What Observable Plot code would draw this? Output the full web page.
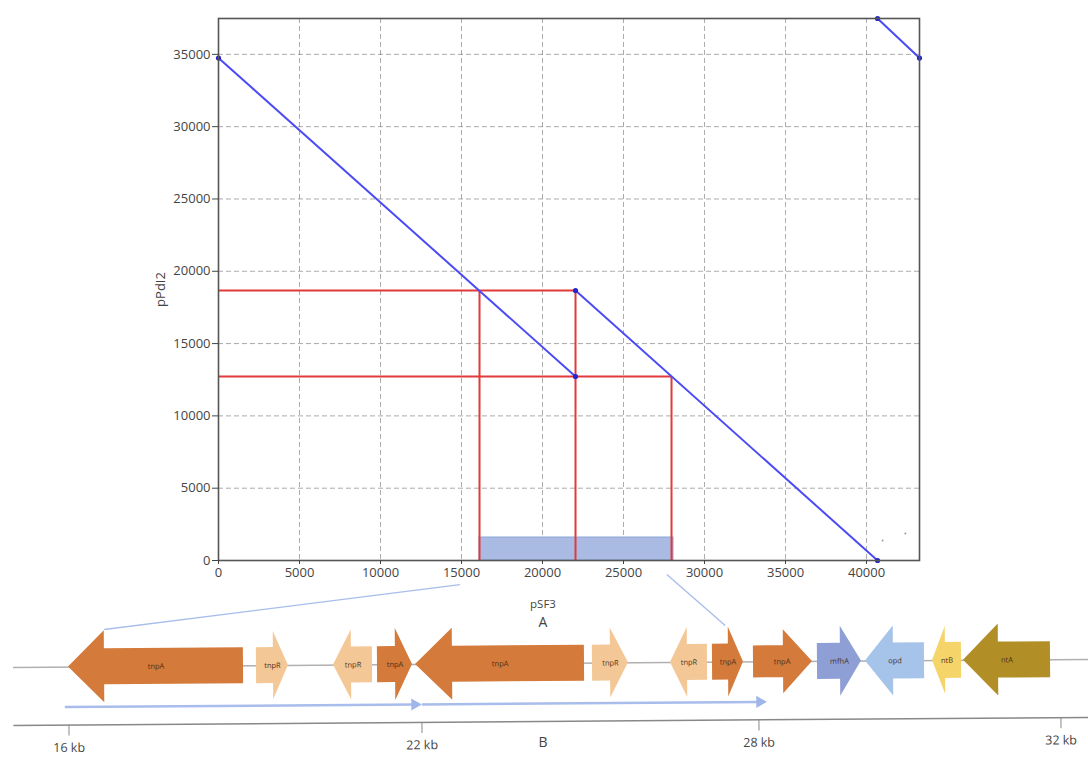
<!DOCTYPE html>
<html><head><meta charset="utf-8">
<script src="https://cdn.jsdelivr.net/npm/d3@7"></script>
<script src="https://cdn.jsdelivr.net/npm/@observablehq/plot@0.6"></script>
<style>
body{margin:0;background:#fff;font-family:"Open Sans",sans-serif;}
#wrap{position:relative;width:1088px;height:757px;overflow:hidden;background:#fff;}
#top{position:absolute;left:0;top:0;}
#map{position:absolute;left:0;top:570px;transform:rotate(-0.43deg);transform-origin:544px 93px;}
#map svg,#top svg{overflow:visible;}
.lbl{position:absolute;transform:translate(-50%,-50%);color:#444;white-space:nowrap;}
</style></head><body>
<div id="wrap"><div id="top"></div><div id="map"></div>
<div class="lbl" style="left:543px;top:603px;font-size:11.5px">pSF3</div>
<div class="lbl" style="left:543px;top:621px;font-size:14px">A</div>
<div class="lbl" style="left:543px;top:741px;font-size:14px">B</div>
</div>
<script>
// ---------- Dot plot data (pSF3 vs pPdI2, bp) ----------
const xTicks = [0, 5000, 10000, 15000, 20000, 25000, 30000, 35000, 40000];
const yTicks = [0, 5000, 10000, 15000, 20000, 25000, 30000, 35000];
const xMax = 43270;
const yMax = 37480;
const segX1 = [0, 22037, 40680];
const segY1 = [34750, 18672, 37480];
const segX2 = [22037, 40680, 43270];
const segY2 = [12725, 0, 34750];
const dotX = [0, 22037, 22037, 40680, 40680, 43270];
const dotY = [34750, 12725, 18672, 0, 37480, 34750];
const redHy = [18672, 12725];
const redHx2 = [22037, 27963];
const redVx = [16111, 22037, 27963];
const redVy2 = [18672, 18672, 12725];
const regionX = [16111, 28086];
const regionY = [0, 1590];
const specksX = [40990, 42400];
const specksY = [1380, 1870];

// ---------- Gene map data (kb) ----------
const geneNames = ["tnpA","tnpR","tnpR","tnpA","tnpA","tnpR","tnpR","tnpA","tnpA","mfhA","opd","ntB","ntA"];
const geneLeft  = [16.00,19.195,20.504,21.252,21.898,25.044,26.433,27.181,27.911,28.781,29.417,30.305,30.715];
const geneRight = [18.974,19.739,21.167,21.847,24.902,25.685,27.092,27.733,28.715,29.364,30.199,30.689,31.868];
const geneHead  = [16.612,19.484,20.810,21.558,22.552,25.365,26.736,27.466,28.331,29.086,29.788,30.477,31.179];
const geneStrand = ["-","+","-","+","-","+","-","+","+","+","-","-","-"];
const geneHeadHalf = [36,34,35,36,36,35,35,35,32,35,35,34,36];
const geneBodyHalf = [18,18,18,18,18,18,18,18,16,18,18,18,18];
const geneColor = {tnpA:"#d47a3a", tnpR:"#f4c896", mfhA:"#8e9fd6", opd:"#a6c3ea", ntB:"#f5d56a", ntA:"#b18f26"};
const kbTicks = [16, 22, 28, 32];
const kbTickPx = [68, 421, 758, 1060];
const arrowX1 = [16.0, 22.071];
const arrowX2 = [21.949, 28.066];
const arrowY = [-40, -40];
const linkX1 = [22.694, 26.380];
const linkY1 = [79.6, 88.1];
const linkX2 = [16.612, 27.412];
const linkY2 = [37.3, 36.6];

// ---------- Top: dot plot ----------
const segs = segX1.map((x, i) => ({x1: x, y1: segY1[i], x2: segX2[i], y2: segY2[i]}));
const dots = dotX.map((x, i) => ({x, y: dotY[i]}));
const redH = redHy.map((y, i) => ({y, x1: 0, x2: redHx2[i]}));
const redV = redVx.map((x, i) => ({x, y1: 0, y2: redVy2[i]}));
const region = [{x1: regionX[0], x2: regionX[1], y1: regionY[0], y2: regionY[1]}];
const specks = specksX.map((x, i) => ({x, y: specksY[i]}));

const dotChart = Plot.plot({
  width: 1088, height: 600,
  marginLeft: 218, marginRight: 169, marginTop: 18, marginBottom: 40,
  style: {fontFamily: "'Open Sans', sans-serif", fontSize: "13px", color: "#444", background: "transparent"},
  x: {domain: [0, xMax]},
  y: {domain: [0, yMax]},
  marks: [
    Plot.gridX(xTicks, {stroke: "#666", strokeOpacity: 0.55, strokeDasharray: "5,3"}),
    Plot.gridY(yTicks, {stroke: "#666", strokeOpacity: 0.55, strokeDasharray: "5,3"}),
    Plot.rect(region, {x1: "x1", x2: "x2", y1: "y1", y2: "y2", fill: "#a9bbe2", stroke: "#8fa5d6"}),
    Plot.ruleY(redH, {y: "y", x1: "x1", x2: "x2", stroke: "#e23a3a", strokeWidth: 2}),
    Plot.ruleX(redV, {x: "x", y1: "y1", y2: "y2", stroke: "#e23a3a", strokeWidth: 2}),
    Plot.link(segs, {x1: "x1", y1: "y1", x2: "x2", y2: "y2", stroke: "#4b4bf5", strokeWidth: 2}),
    Plot.dot(dots, {x: "x", y: "y", r: 2.6, fill: "#2424d0"}),
    Plot.dot(specks, {x: "x", y: "y", r: 1, fill: "#999"}),
    Plot.frame({stroke: "#555", strokeWidth: 1.6}),
    Plot.axisX({ticks: xTicks, tickFormat: d => String(d), tickSize: 4, tickPadding: 3, label: null, fontSize: 13}),
    Plot.axisY({ticks: yTicks, tickFormat: d => String(d), tickSize: 6, tickPadding: 2, fontSize: 13,
      label: "pPdI2", labelAnchor: "center", labelOffset: 63, labelArrow: "none"})
  ]
});
document.getElementById("top").appendChild(dotChart);

// ---------- Bottom: gene map ----------
const pts = [];
geneNames.forEach((n, i) => {
  const L = geneLeft[i], R = geneRight[i], H = geneHead[i], h = geneHeadHalf[i], b = geneBodyHalf[i];
  const c = geneColor[n];
  const seq = geneStrand[i] === "+"
    ? [[L, b], [H, b], [H, h], [R, 0]]
    : [[L, 0], [H, h], [H, b], [R, b]];
  seq.forEach(([x, w]) => pts.push({id: i, x, lo: -w, hi: w, color: c}));
});
const genes = geneNames.map((n, i) => ({name: n, x: (geneLeft[i] + geneRight[i]) / 2}));
const arrows = arrowX1.map((x, i) => ({x1: x, x2: arrowX2[i], y: arrowY[i]}));
const links = linkX1.map((x, i) => ({x1: x, y1: linkY1[i], x2: linkX2[i], y2: linkY2[i]}));

const mapChart = Plot.plot({
  width: 1088, height: 187,
  marginLeft: 13, marginRight: 0, marginTop: 0, marginBottom: 36,
  style: {fontFamily: "'Open Sans', sans-serif", fontSize: "12.5px", color: "#444", background: "transparent"},
  x: {type: "linear", domain: kbTicks, range: kbTickPx},
  y: {domain: [-58, 93], axis: null},
  marks: [
    Plot.link(links, {x1: "x1", y1: "y1", x2: "x2", y2: "y2", stroke: "#a8bdeb", strokeWidth: 1.3}),
    Plot.ruleY([0], {stroke: "#b0b0b0", strokeWidth: 1.5}),
    Plot.area(pts, {x1: "x", y1: "lo", y2: "hi", z: "id", fill: "color"}),
    Plot.text(genes, {x: "x", y: 0, text: "name", fontSize: 7.5, fill: "#4a2f1a"}),
    Plot.link(arrows, {x1: "x1", y1: "y", x2: "x2", y2: "y", stroke: "#a8bdeb", strokeWidth: 2.5, dx: -4}),
    Plot.dot(arrows, {x: "x2", y: "y", symbol: "triangle", rotate: 90, r: 4.5, fill: "#a0b6ea", dx: -4}),
    Plot.ruleY([-58], {stroke: "#888", strokeWidth: 1.5}),
    Plot.axisX({ticks: kbTicks, tickFormat: d => d + " kb", tickSize: 11, tickPadding: 7, label: null, stroke: "#888"})
  ]
});
document.getElementById("map").appendChild(mapChart);
</script>
</body></html>
